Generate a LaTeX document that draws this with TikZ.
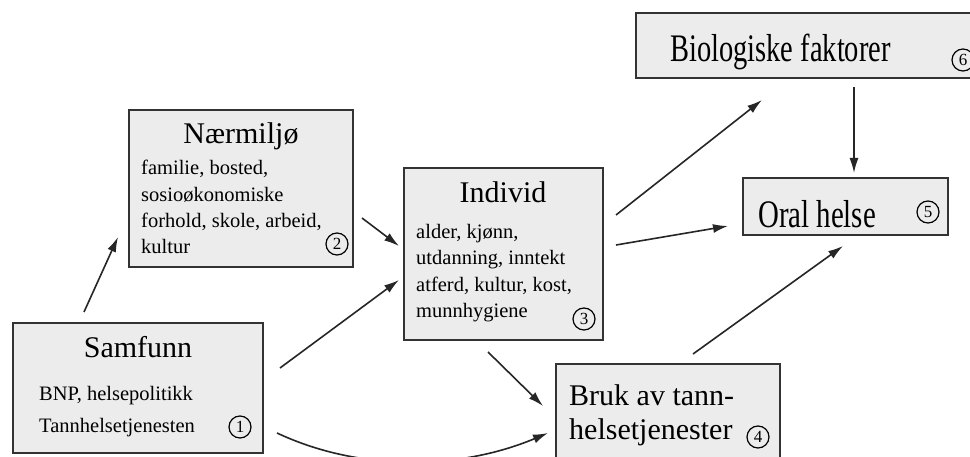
\documentclass[tikz,border=0pt]{standalone}
\usepackage{fontspec}
\usepackage{graphicx}
\setmainfont{Liberation Serif}
\usetikzlibrary{arrows.meta}
\definecolor{boxfill}{gray}{0.925}
\definecolor{boxline}{gray}{0.2}
\definecolor{arrowcol}{gray}{0.15}
\begin{document}
\begin{tikzpicture}[x=1pt,y=-1pt,
  box/.style={draw=boxline,line width=1.6pt,fill=boxfill,inner sep=0pt},
  title/.style={anchor=base,inner sep=0pt,font=\fontsize{30}{36}\selectfont},
  bigtitle/.style={anchor=base west,inner sep=0pt,font=\fontsize{39}{48}\selectfont},
  bodytext/.style={anchor=base west,inner sep=0pt,font=\fontsize{20.5}{24}\selectfont},
  num/.style={circle,draw=black,line width=1.2pt,inner sep=0pt,minimum size=22pt,font=\fontsize{17}{17}\selectfont},
  conn/.style={draw=arrowcol,line width=1.6pt,-{Latex[length=15pt,width=9pt]}}
]
\useasboundingbox (0,0) rectangle (970,457);
\fill[white] (0,0) rectangle (970,457);

% boxes
\draw[box] (13,323) rectangle (263,453);
\node[inner sep=0pt] (samf) at (138,388) {};
\draw[box] (129,110) rectangle (353,267);
\node[inner sep=0pt] (naer) at (241,188) {};
\draw[box] (404,168) rectangle (603,340);
\node[inner sep=0pt] (indiv) at (503,254) {};
\draw[box] (556,364) rectangle (780,475);
\node[inner sep=0pt] (bruk) at (668,420) {};
\draw[box] (636,13) rectangle (985,78);
\node[inner sep=0pt] (bio) at (800,45) {};
\draw[box] (743,178) rectangle (948,235);
\node[inner sep=0pt] (oral) at (845,206) {};

% Samfunn
\node[title] (samfT) at (138,357) {Samfunn};
\node[bodytext] (samfA) at (39,400) {BNP, helsepolitikk};
\node[bodytext] (samfB) at (39,432) {Tannhelsetjenesten};
\node[num] (n1) at (240,427) {1};

% Naermiljo
\node[title] (naerT) at (241,144) {Nærmiljø};
\node[bodytext] (naerA) at (141,175) {familie, bosted,};
\node[bodytext] (naerB) at (141,202) {sosioøkonomiske};
\node[bodytext] (naerC) at (141,228) {forhold, skole, arbeid,};
\node[bodytext] (naerD) at (141,254) {kultur};
\node[num] (n2) at (337,244) {2};

% Individ
\node[title] (indivT) at (503,203) {Individ};
\node[bodytext] (indA) at (416,239) {alder, kjønn,};
\node[bodytext] (indB) at (416,265) {utdanning, inntekt};
\node[bodytext] (indC) at (416,292) {atferd, kultur, kost,};
\node[bodytext] (indD) at (416,317) {munnhygiene};
\node[num] (n3) at (584,319) {3};

% Bruk
\node[title,anchor=base west] (brukA) at (569,405) {Bruk av tann-};
\node[title,anchor=base west] (brukB) at (569,439) {helsetjenester};
\node[num] (n4) at (758,437) {4};

% Biologiske
\node[bigtitle] (bioT) at (670,62) {\scalebox{0.73}[1]{Biologiske faktorer}};
\node[num] (n6) at (963,60) {6};

% Oral helse
\node[bigtitle] (oralT) at (758,228) {\scalebox{0.74}[1]{Oral helse}};
\node[num] (n5) at (928,212) {5};

% connector end points
\coordinate (a1s) at (84,312);  \coordinate (a1e) at (118,237);
\coordinate (a2s) at (362,218); \coordinate (a2e) at (399,246);
\coordinate (a3s) at (280,368); \coordinate (a3e) at (399,280);
\coordinate (a4s) at (277,433); \coordinate (a4e) at (548,433);
\coordinate (a5s) at (488,352); \coordinate (a5e) at (543,406);
\coordinate (a6s) at (616,215); \coordinate (a6e) at (762,100);
\coordinate (a7s) at (616,245); \coordinate (a7e) at (728,226);
\coordinate (a8s) at (693,354); \coordinate (a8e) at (843,246);
\coordinate (a9s) at (854,87);  \coordinate (a9e) at (854,173);

\draw[conn] (a1s) -- (a1e);
\draw[conn] (a2s) -- (a2e);
\draw[conn] (a3s) -- (a3e);
\draw[conn] (a4s) .. controls (360,472) and (460,470) .. (a4e);
\draw[conn] (a5s) -- (a5e);
\draw[conn] (a6s) -- (a6e);
\draw[conn] (a7s) -- (a7e);
\draw[conn] (a8s) -- (a8e);
\draw[conn] (a9s) -- (a9e);
\end{tikzpicture}
\end{document}
